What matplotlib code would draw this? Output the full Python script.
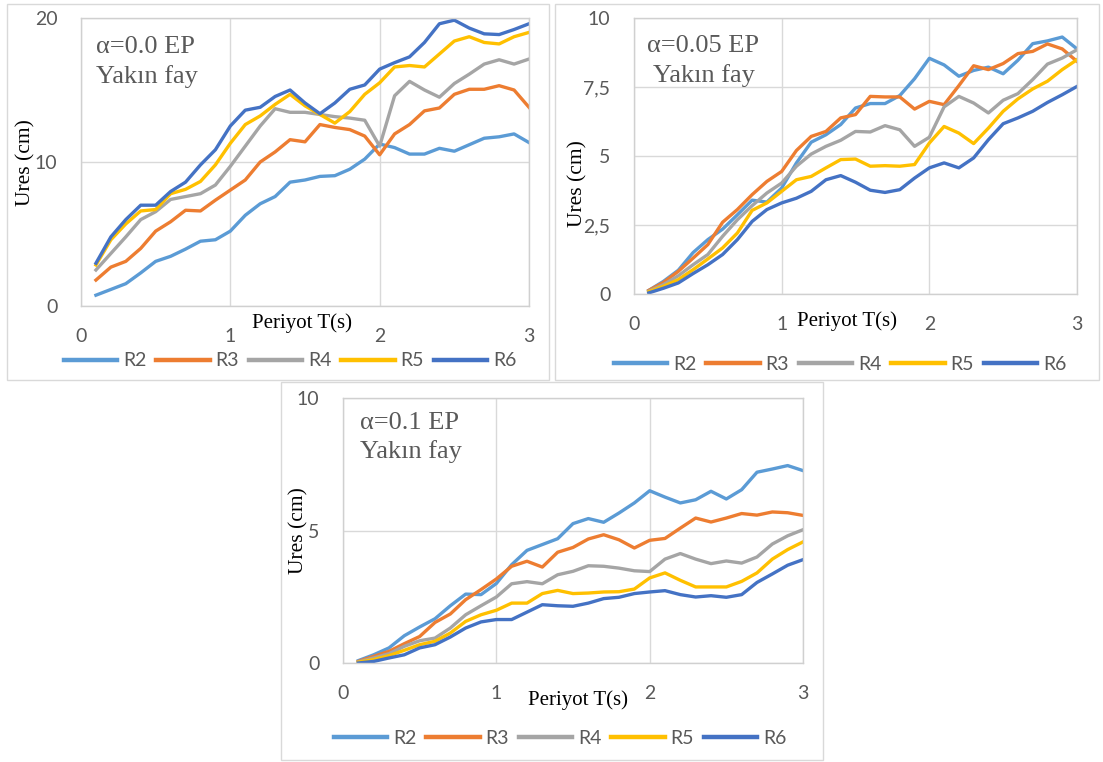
import matplotlib.pyplot as plt
from matplotlib.patches import Rectangle

# periods (s)
periods = [0.1, 0.2, 0.3, 0.4, 0.5, 0.6, 0.7, 0.8, 0.9, 1.0,
           1.1, 1.2, 1.3, 1.4, 1.5, 1.6, 1.7, 1.8, 1.9, 2.0,
           2.1, 2.2, 2.3, 2.4, 2.5, 2.6, 2.7, 2.8, 2.9, 3.0]
series_names = ["R2", "R3", "R4", "R5", "R6"]
colors = ["#5B9BD5", "#ED7D31", "#A5A5A5", "#FFC000", "#4472C4"]

# alpha = 0.0
r2_a000 = [0.75, 1.15, 1.55, 2.3, 3.1, 3.45, 3.95, 4.5, 4.6, 5.2, 6.3, 7.1, 7.6, 8.6, 8.75,
           9.0, 9.05, 9.5, 10.2, 11.25, 11.0, 10.55, 10.55, 10.95, 10.75, 11.2, 11.65, 11.75, 11.95, 11.35]
r3_a000 = [1.8, 2.7, 3.1, 4.0, 5.2, 5.85, 6.65, 6.6, 7.35, 8.05, 8.75, 10.0, 10.7, 11.55, 11.4,
           12.6, 12.4, 12.25, 11.8, 10.5, 11.95, 12.6, 13.55, 13.75, 14.7, 15.05, 15.05, 15.3, 15.0, 13.8]
r4_a000 = [2.5, 3.65, 4.8, 6.0, 6.55, 7.4, 7.6, 7.8, 8.4, 9.7, 11.1, 12.5, 13.7, 13.45, 13.45,
           13.3, 13.15, 13.05, 12.9, 11.1, 14.6, 15.6, 15.0, 14.5, 15.45, 16.1, 16.8, 17.1, 16.8, 17.15]
r5_a000 = [2.85, 4.6, 5.7, 6.6, 6.7, 7.8, 8.1, 8.65, 9.8, 11.3, 12.6, 13.2, 14.0, 14.7, 13.9,
           13.3, 12.7, 13.5, 14.7, 15.5, 16.6, 16.7, 16.6, 17.5, 18.4, 18.7, 18.3, 18.2, 18.7, 19.0]
r6_a000 = [2.97, 4.8, 6.0, 7.0, 7.0, 7.95, 8.6, 9.8, 10.85, 12.5, 13.6, 13.8, 14.55, 15.0, 14.1,
           13.35, 14.1, 15.05, 15.35, 16.45, 16.9, 17.3, 18.3, 19.6, 19.85, 19.3, 18.9, 18.85, 19.2, 19.6]

# alpha = 0.05
r2_a005 = [0.13, 0.46, 0.86, 1.5, 1.97, 2.35, 2.87, 3.4, 3.33, 3.84, 4.75, 5.5, 5.77, 6.14, 6.74,
           6.9, 6.9, 7.19, 7.8, 8.54, 8.3, 7.89, 8.1, 8.22, 7.98, 8.47, 9.07, 9.17, 9.31, 8.88]
r3_a005 = [0.13, 0.42, 0.82, 1.3, 1.79, 2.6, 3.06, 3.6, 4.08, 4.44, 5.2, 5.71, 5.89, 6.38, 6.5,
           7.16, 7.14, 7.14, 6.7, 6.98, 6.86, 7.55, 8.27, 8.13, 8.35, 8.71, 8.79, 9.06, 8.88, 8.43]
r4_a005 = [0.1, 0.34, 0.66, 1.06, 1.43, 2.09, 2.69, 3.2, 3.66, 4.02, 4.63, 5.07, 5.35, 5.57, 5.89,
           5.87, 6.1, 5.95, 5.35, 5.68, 6.78, 7.16, 6.92, 6.56, 7.02, 7.26, 7.77, 8.33, 8.55, 8.85]
r5_a005 = [0.08, 0.28, 0.52, 0.88, 1.27, 1.67, 2.21, 3.03, 3.3, 3.72, 4.14, 4.26, 4.57, 4.87, 4.89,
           4.63, 4.65, 4.63, 4.69, 5.47, 6.07, 5.83, 5.45, 6.01, 6.62, 7.07, 7.43, 7.71, 8.13, 8.49]
r6_a005 = [0.04, 0.21, 0.4, 0.74, 1.06, 1.43, 1.97, 2.63, 3.06, 3.3, 3.47, 3.72, 4.14, 4.29, 4.05,
           3.76, 3.68, 3.78, 4.2, 4.57, 4.75, 4.57, 4.93, 5.59, 6.17, 6.38, 6.62, 6.94, 7.22, 7.52]

# alpha = 0.1
r2_a010 = [0.09, 0.31, 0.57, 1.03, 1.36, 1.67, 2.16, 2.6, 2.58, 3.0, 3.71, 4.25, 4.47, 4.69, 5.26,
           5.45, 5.31, 5.66, 6.04, 6.5, 6.26, 6.04, 6.16, 6.48, 6.19, 6.54, 7.2, 7.32, 7.45, 7.26]
r3_a010 = [0.06, 0.25, 0.44, 0.73, 1.0, 1.53, 1.85, 2.39, 2.77, 3.17, 3.65, 3.84, 3.62, 4.18, 4.36,
           4.68, 4.84, 4.65, 4.34, 4.63, 4.7, 5.09, 5.47, 5.32, 5.47, 5.64, 5.58, 5.7, 5.67, 5.57]
r4_a010 = [0.04, 0.19, 0.35, 0.63, 0.84, 0.94, 1.32, 1.82, 2.16, 2.49, 2.99, 3.07, 2.99, 3.33, 3.46,
           3.67, 3.65, 3.58, 3.48, 3.45, 3.92, 4.13, 3.92, 3.75, 3.85, 3.77, 4.0, 4.49, 4.8, 5.03]
r5_a010 = [0.03, 0.13, 0.28, 0.48, 0.69, 0.82, 1.13, 1.57, 1.82, 1.99, 2.26, 2.26, 2.62, 2.74, 2.62,
           2.64, 2.68, 2.69, 2.79, 3.21, 3.4, 3.12, 2.87, 2.87, 2.87, 3.08, 3.4, 3.92, 4.28, 4.57]
r6_a010 = [0.0, 0.06, 0.19, 0.31, 0.57, 0.69, 0.98, 1.32, 1.55, 1.64, 1.64, 1.92, 2.2, 2.16, 2.14,
           2.26, 2.43, 2.48, 2.62, 2.68, 2.73, 2.58, 2.49, 2.54, 2.48, 2.58, 3.04, 3.36, 3.69, 3.9]

W, H = 1103, 762
fig = plt.figure(figsize=(W / 100, H / 100), dpi=100)
fig.patch.set_facecolor("white")

TICK_FONT = ["Lato", "DejaVu Sans"]
SERIF = ["Liberation Serif", "DejaVu Serif"]
GREY_TXT = "#595959"
GRID = "#D9D9D9"


def fx(x):
    return x / W


def fy(y):
    return 1 - y / H


panels = [
    dict(series=[r2_a000, r3_a000, r4_a000, r5_a000, r6_a000],
         box=(7, 4, 549, 380), plot=(81, 18, 529, 306),
         yticks=[0, 10, 20], ylabels=["0", "10", "20"],
         note=["α=0.0 EP", "Yakın fay"], note_pos=(96, 53, 96, 83),
         ylab=(26, 163), xlab=(302, 323), leg=(290, 361)),
    dict(series=[r2_a005, r3_a005, r4_a005, r5_a005, r6_a005],
         box=(555, 4, 1099, 380), plot=(634, 18, 1077, 294),
         yticks=[0, 2.5, 5, 7.5, 10], ylabels=["0", "2,5", "5", "7,5", "10"],
         note=["α=0.05 EP", "Yakın fay"], note_pos=(647, 52, 653, 82),
         ylab=(578, 184), xlab=(847, 321), leg=(840, 364)),
    dict(series=[r2_a010, r3_a010, r4_a010, r5_a010, r6_a010],
         box=(281, 382, 823, 760), plot=(343, 398, 803, 663),
         yticks=[0, 5, 10], ylabels=["0", "5", "10"],
         note=["α=0.1 EP", "Yakın fay"], note_pos=(360, 429, 360, 458),
         ylab=(299, 531), xlab=(578, 700), leg=(560, 738)),
]

for p in panels:
    bx0, by0, bx1, by1 = p["box"]
    fig.add_artist(Rectangle((fx(bx0), fy(by1)), fx(bx1 - bx0), (by1 - by0) / H,
                             transform=fig.transFigure, facecolor="white",
                             edgecolor=GRID, linewidth=1.0, zorder=0))

    x0, y0, x1, y1 = p["plot"]
    ax = fig.add_axes([fx(x0), fy(y1), fx(x1 - x0), (y1 - y0) / H])
    for name, vals, c in zip(series_names, p["series"], colors):
        ax.plot(periods, vals, color=c, lw=2.4, label=name, solid_joinstyle="round")

    ax.set_xlim(0, 3)
    ax.set_ylim(p["yticks"][0], p["yticks"][-1])
    ax.set_xticks([0, 1, 2, 3])
    ax.set_xticklabels(["0", "1", "2", "3"])
    ax.set_yticks(p["yticks"])
    ax.set_yticklabels(p["ylabels"])
    ax.grid(True, color=GRID, linewidth=1.0)
    ax.set_axisbelow(True)
    for s in ax.spines.values():
        s.set_color("#D0D0D0")
        s.set_linewidth(1.0)
    ax.tick_params(length=0, labelcolor=GREY_TXT, labelsize=14)
    ax.tick_params(axis="x", pad=15.5)
    ax.tick_params(axis="y", pad=17)
    for lab in ax.get_xticklabels() + ax.get_yticklabels():
        lab.set_family(TICK_FONT)

    nx1, ny1, nx2, ny2 = p["note_pos"]
    fig.text(fx(nx1), fy(ny1), p["note"][0], family=SERIF, fontsize=19,
             color=GREY_TXT, ha="left", va="baseline")
    fig.text(fx(nx2), fy(ny2), p["note"][1], family=SERIF, fontsize=19,
             color=GREY_TXT, ha="left", va="baseline")

    fig.text(fx(p["ylab"][0]), fy(p["ylab"][1]), "Ures (cm)", family=SERIF,
             fontsize=15.5, rotation=90, ha="center", va="center", color="black")
    fig.text(fx(p["xlab"][0]), fy(p["xlab"][1]), "Periyot T(s)", family=SERIF,
             fontsize=15, ha="center", va="center", color="black")

    leg = fig.legend(*ax.get_legend_handles_labels(), loc="center",
                     bbox_to_anchor=(fx(p["leg"][0]), fy(p["leg"][1])),
                     ncol=5, frameon=False, handlelength=2.75, handletextpad=0.3,
                     columnspacing=0.5, borderaxespad=0,
                     prop=dict(family=TICK_FONT, size=14))
    for t in leg.get_texts():
        t.set_color(GREY_TXT)
    for h in leg.legend_handles:
        h.set_linewidth(3.2)

fig.savefig("out.png", dpi=100, facecolor="white")
